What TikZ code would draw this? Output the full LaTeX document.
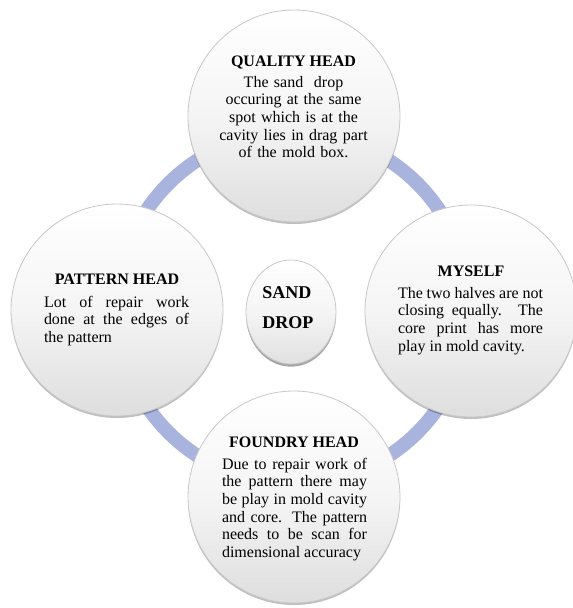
\documentclass[tikz,border=0pt]{standalone}
\usepackage{fontspec}
\setmainfont{Liberation Serif}
\usetikzlibrary{shadows,shapes.geometric}
\definecolor{ringcol}{RGB}{168,180,222}
\definecolor{edgecol}{RGB}{200,200,200}
\tikzset{
  bigc/.style={circle, draw=edgecol, line width=0.6pt, minimum size=159pt, inner sep=0pt,
    top color=white, bottom color=black!13, middle color=white!96!black,
    drop shadow={shadow xshift=0pt, shadow yshift=-1.5pt, opacity=0.25, fill=black}},
  midc/.style={ellipse, draw=edgecol, line width=0.6pt, minimum width=67.5pt, minimum height=78pt, inner sep=0pt,
    top color=white, bottom color=black!12, middle color=white!96!black,
    drop shadow={shadow xshift=0pt, shadow yshift=-2pt, opacity=0.35, fill=black}},
  ttl/.style={font=\fontsize{12}{13.3}\selectfont\bfseries, inner sep=0pt, anchor=base},
  bodyc/.style={font=\fontsize{12}{13.3}\selectfont, text width=130pt, align=center, inner sep=0pt, anchor=base},
  bodyj/.style={font=\fontsize{12}{13.3}\selectfont, text width=108.75pt, align=justify, inner sep=0pt, anchor=base},
  ctr/.style={font=\fontsize{13.5}{21.8}\selectfont\bfseries, align=left, inner sep=0pt, anchor=base west},
}
\begin{document}
\begin{tikzpicture}[x=0.75pt, y=-0.75pt]
\useasboundingbox (0,0) rectangle (573,608);
\clip (0,0) rectangle (573,608);
% ring
\coordinate (rc) at (293,308);
\draw[ringcol, line width=10.5pt] (rc) circle[radius=132pt];
% circles
\node[bigc] (qc) at (294,116) {};
\node[bigc] (pc) at (117,310) {};
\node[bigc] (mc) at (471,311) {};
\node[bigc] (fc) at (294,497) {};
\node[midc] (sc) at (291,312) {};
% texts
\node[ttl] (qt) at (293.5,66) {QUALITY HEAD};
\node[bodyc] (qb) at (293.5,87) {The sand~ drop\\ occuring at the same\\ spot which is at the\\ cavity lies in drag part\\ of the mold box.};
\node[ttl] (pt) at (117,284) {PATTERN HEAD};
\node[bodyj] (pb) at (116.5,307) {Lot of repair work\linebreak done at the edges of\linebreak the pattern};
\node[ttl] (mt) at (471,276) {MYSELF};
\node[bodyj] (mb) at (470.5,298) {The two halves are not\linebreak closing equally. The\linebreak core print has more\linebreak play in mold cavity.};
\node[ttl] (ft) at (294,447) {FOUNDRY HEAD};
\node[bodyj] (fb) at (294.5,469) {Due to repair work of\linebreak the pattern there may\linebreak be play in mold cavity\linebreak and core. The pattern\linebreak needs to be scan for\linebreak dimensional accuracy};
\node[ctr] (st) at (262,328) {SAND\\DROP};
\end{tikzpicture}
\end{document}
